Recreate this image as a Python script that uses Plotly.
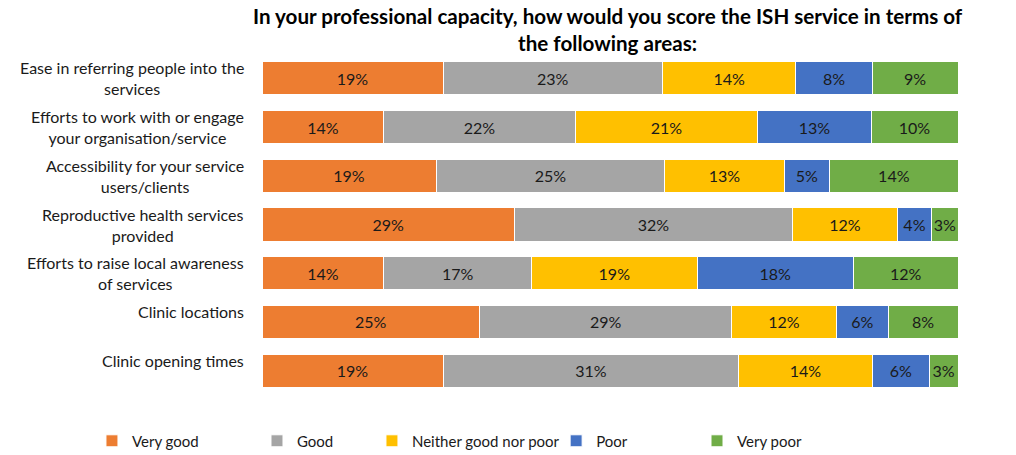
import plotly.graph_objects as go

categories = [
    "Ease in referring people into the<br>services",
    "Efforts to work with or engage<br>your organisation/service",
    "Accessibility for your service<br>users/clients",
    "Reproductive health services<br>provided",
    "Efforts to raise local awareness<br>of services",
    "Clinic locations",
    "Clinic opening times",
]
series_names = ["Very good", "Good", "Neither good nor poor", "Poor", "Very poor"]
very_good = [19, 14, 19, 29, 14, 25, 19]
good = [23, 22, 25, 32, 17, 29, 31]
neither = [14, 21, 13, 12, 19, 12, 14]
poor = [8, 13, 5, 4, 18, 6, 6]
very_poor = [9, 10, 14, 3, 12, 8, 3]
colors = ["#ED7D31", "#A5A5A5", "#FFC000", "#4472C4", "#70AD47"]
title_text = "<b>In your professional capacity, how would you score the ISH service in terms of<br>the following areas:</b>"

FONT = "Lato, 'Open Sans', sans-serif"
legend_x = [-0.2443, -0.0072, 0.158, 0.4226, 0.625]
legend_keys = ["legend2", "legend3", "legend4", "legend5", "legend6"]

fig = go.Figure()
for k, (name, vals, col) in enumerate(zip(series_names, [very_good, good, neither, poor, very_poor], colors)):
    fig.add_trace(go.Bar(
        y=list(range(len(categories))), x=vals, name=name, orientation="h",
        marker=dict(color=col, line=dict(color="white", width=1)),
        text=[f"{v}%" for v in vals], textposition="inside", textangle=0,
        insidetextanchor="middle", constraintext="none",
        textfont=dict(family=FONT, size=16, color="#1a1a1a"),
        width=0.68, legend=legend_keys[k], showlegend=True,
    ))

for i, c in enumerate(categories):
    single = "<br>" not in c
    fig.add_annotation(
        xref="paper", yref="y", x=-0.023, y=i, text=c, showarrow=False,
        xanchor="right", yanchor="middle", align="center",
        yshift=10 if single else 0,
        font=dict(family=FONT, size=16, color="#1a1a1a"),
    )

fig.add_annotation(
    xref="paper", yref="paper", x=0.497, y=1.152, text=title_text, showarrow=False,
    xanchor="center", yanchor="top", align="center",
    font=dict(family=FONT, size=20.6, color="#000000"),
)

legend_layout = {}
for k, key in enumerate(legend_keys):
    legend_layout[key] = dict(
        orientation="h", x=legend_x[k], xanchor="left",
        y=-0.135, yanchor="middle", bgcolor="rgba(0,0,0,0)",
        font=dict(family=FONT, size=15, color="#1a1a1a"),
        itemwidth=30, visible=True,
    )

fig.update_layout(
    barmode="stack", barnorm="percent",
    width=1016, height=455,
    margin=dict(l=262, r=58, t=54, b=60, autoexpand=False),
    plot_bgcolor="white", paper_bgcolor="white",
    xaxis=dict(visible=False, range=[0, 100], fixedrange=True),
    yaxis=dict(visible=False, range=[6.5, -0.5]),
    uniformtext=dict(minsize=15, mode="show"),
    **legend_layout,
)
fig.write_html(
    "out.html",
    config={"displayModeBar": False},
    post_script="document.body.style.margin='0';document.body.style.overflow='hidden';",
)
